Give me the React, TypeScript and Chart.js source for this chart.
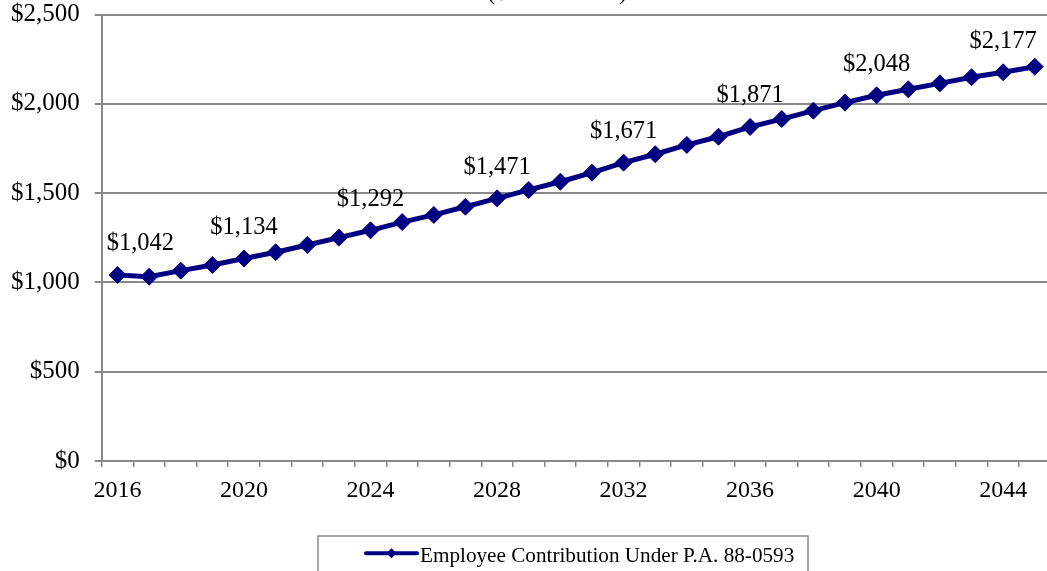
import React, { useEffect, useRef } from "react";
import { Chart, registerables } from "chart.js";

Chart.register(...registerables);

const years = [
  "2016", "2017", "2018", "2019", "2020", "2021", "2022", "2023", "2024", "2025",
  "2026", "2027", "2028", "2029", "2030", "2031", "2032", "2033", "2034", "2035",
  "2036", "2037", "2038", "2039", "2040", "2041", "2042", "2043", "2044", "2045",
];

const contributions = [
  1042, 1032, 1066, 1098, 1134, 1169, 1210, 1251, 1292, 1338,
  1378, 1424, 1471, 1518, 1564, 1615, 1671, 1718, 1770, 1816,
  1871, 1915, 1962, 2007, 2048, 2082, 2115, 2149, 2177, 2208,
];

const labeledYears = ["2016", "2020", "2024", "2028", "2032", "2036", "2040", "2044"];
const xTickLabels = ["2016", "2020", "2024", "2028", "2032", "2036", "2040", "2044"];
const yMin = 0;
const yMax = 2500;
const yStep = 500;

const seriesName = "Employee Contribution Under P.A. 88-0593";
const subTitle = "($ in millions)";

const FONT = '"Liberation Serif", "Times New Roman", serif';
const NAVY = "#000080";
const GRID = "#898989";

const CANVAS_W = 1120;
const CANVAS_H = 640;
const SHIFT = 40;

const money = (v: number) => "$" + v.toLocaleString("en-US");

const overlay = {
  id: "overlay",
  afterDatasetsDraw(chart: any) {
    const ctx = chart.ctx;
    const meta = chart.getDatasetMeta(0);
    const area = chart.chartArea;
    ctx.save();
    ctx.fillStyle = "#000";
    ctx.font = `24.5px ${FONT}`;
    ctx.textAlign = "center";
    ctx.textBaseline = "alphabetic";
    years.forEach((yr, i) => {
      if (!labeledYears.includes(yr)) return;
      const pt = meta.data[i];
      const text = money(contributions[i]);
      const w = ctx.measureText(text).width;
      const x = Math.max(pt.x, area.left + w / 2 + 5);
      ctx.fillText(text, x, pt.y - 24.5);
    });

    // partially hidden subtitle
    ctx.fillText(subTitle, 557, SHIFT - 1);

    // legend
    const top = 536 + SHIFT;
    ctx.strokeStyle = GRID;
    ctx.lineWidth = 1.5;
    ctx.strokeRect(318, top, 490, 60);
    const ly = 553.3 + SHIFT;
    ctx.strokeStyle = NAVY;
    ctx.lineWidth = 4;
    ctx.lineCap = "round";
    ctx.beginPath();
    ctx.moveTo(366, ly);
    ctx.lineTo(417, ly);
    ctx.stroke();
    ctx.fillStyle = NAVY;
    ctx.beginPath();
    const cx = 391.5;
    const r = 5;
    ctx.moveTo(cx - r, ly);
    ctx.lineTo(cx, ly - r);
    ctx.lineTo(cx + r, ly);
    ctx.lineTo(cx, ly + r);
    ctx.closePath();
    ctx.fill();
    ctx.fillStyle = "#000";
    ctx.font = `21.2px ${FONT}`;
    ctx.textAlign = "left";
    ctx.fillText(seriesName, 420, 561.7 + SHIFT);
    ctx.restore();
  },
};

export default function App() {
  const ref = useRef<HTMLCanvasElement | null>(null);

  useEffect(() => {
    if (!ref.current) return;
    const chart = new Chart(ref.current, {
      type: "line",
      data: {
        labels: years,
        datasets: [
          {
            label: seriesName,
            data: contributions,
            borderColor: NAVY,
            backgroundColor: NAVY,
            borderWidth: 5,
            pointStyle: "rectRot",
            pointRadius: 8.5,
            pointHoverRadius: 8.5,
            pointBackgroundColor: NAVY,
            pointBorderColor: NAVY,
            pointBorderWidth: 1,
            tension: 0,
            clip: false as any,
          },
        ],
      },
      options: {
        responsive: false,
        animation: false,
        layout: {
          padding: { left: 0, top: 14.6 + SHIFT, right: CANVAS_W - 1050.6, bottom: 0 },
        },
        plugins: {
          legend: { display: false },
          title: { display: false },
          tooltip: { enabled: false },
        },
        scales: {
          x: {
            type: "category",
            offset: true,
            grid: {
              offset: true,
              drawOnChartArea: false,
              drawTicks: true,
              tickLength: 6,
              color: GRID,
              lineWidth: 1.5,
            },
            border: { display: true, color: GRID, width: 2 },
            ticks: {
              autoSkip: false,
              maxRotation: 0,
              minRotation: 0,
              padding: 9,
              color: "#000",
              font: { family: FONT, size: 24 },
              callback: (_v: any, idx: number) =>
                xTickLabels.includes(years[idx]) ? years[idx] : "",
            },
            afterFit: (s: any) => {
              s.height = CANVAS_H - (461 + SHIFT);
            },
          },
          y: {
            min: yMin,
            max: yMax,
            grid: {
              color: GRID,
              lineWidth: 2,
              drawTicks: true,
              tickLength: 7,
            },
            border: { display: true, color: GRID, width: 2 },
            ticks: {
              stepSize: yStep,
              padding: 15,
              color: "#000",
              font: { family: FONT, size: 25 },
              callback: (v: any) => money(Number(v)),
            },
            afterFit: (s: any) => {
              s.width = 101.7;
            },
          },
        },
      },
      plugins: [overlay],
    });
    return () => chart.destroy();
  }, []);

  return (
    <div
      style={{
        position: "fixed",
        left: 0,
        top: 0,
        width: 1047,
        height: 571,
        overflow: "hidden",
        background: "#fff",
      }}
    >
      <canvas
        ref={ref}
        width={CANVAS_W}
        height={CANVAS_H}
        style={{ position: "absolute", left: 0, top: -SHIFT, width: CANVAS_W, height: CANVAS_H }}
      />
    </div>
  );
}
